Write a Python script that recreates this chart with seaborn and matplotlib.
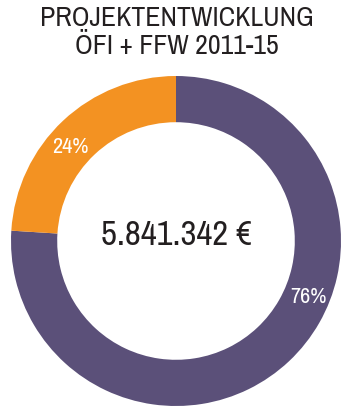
import matplotlib.pyplot as plt
import seaborn as sns
import numpy as np

# Datos del grafico
categorias = ['Sonstige', 'ÖFI + FFW']
anteile = [76, 24]
etiquetas = ['76%', '24%']
colores = ['#5b5079', '#f39222']
titulo = 'PROJEKTENTWICKLUNG\nÖFI + FFW 2011-15'
summe = '5.841.342 €'

sns.set_theme(style='white')
plt.rcParams['font.family'] = ['Archivo Narrow', 'Roboto', 'DejaVu Sans']

fig = plt.figure(figsize=(3.54, 4.12), dpi=100)
# donut: centro (176, 241) px, radio 165 px
ax = fig.add_axes([11 / 354, (412 - 241 - 165) / 412, 330 / 354, 330 / 412])

ax.pie(anteile, colors=colores, startangle=90, counterclock=False,
       radius=1.0, wedgeprops=dict(width=0.28, edgecolor='none'))

# Etiquetas de porcentaje
ang = [-23, 138.6]
rad = [0.87, 0.857]
for lab, a, r in zip(etiquetas, ang, rad):
    ax.text(r * np.cos(np.radians(a)), r * np.sin(np.radians(a)), lab,
            ha='center', va='center', color='white', fontsize=16, zorder=5)

ax.text(0, 0.035, summe, ha='center', va='center', color='#231f20', fontsize=25)
ax.set_xlim(-1, 1)
ax.set_ylim(-1, 1)
ax.set_aspect('equal')
ax.axis('off')

fig.text(0.5, 1 - 33 / 412, titulo, ha='center', va='center', color='#231f20',
         fontsize=20, linespacing=1.15)

fig.savefig('out.png', dpi=100)
